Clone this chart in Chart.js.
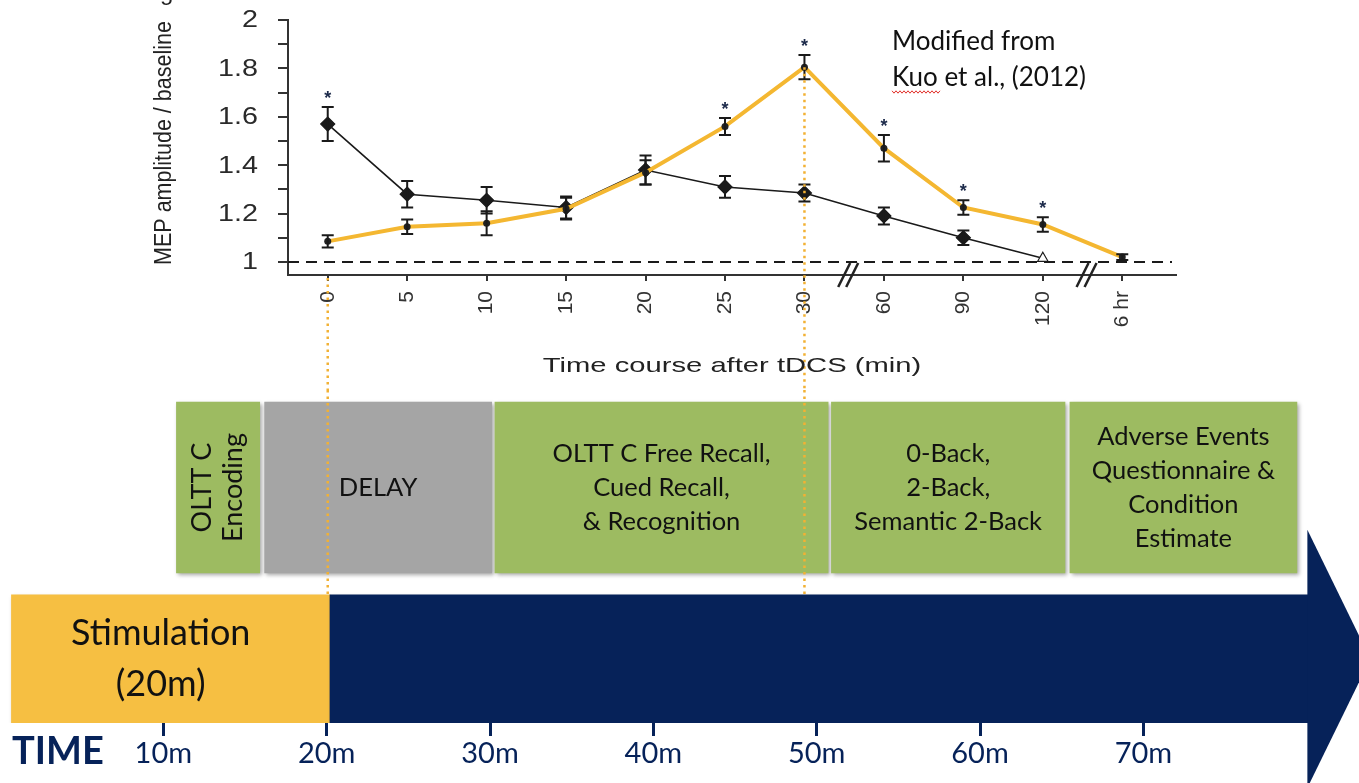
<!DOCTYPE html>
<html>
<head>
<meta charset="utf-8">
<script src="https://cdn.jsdelivr.net/npm/chart.js@4.4.1/dist/chart.umd.min.js"></script>
<style>
  html, body { margin: 0; padding: 0; background: #fff; }
  #wrap { position: relative; width: 1359px; height: 783px; overflow: hidden; }
  #mepChart { position: absolute; left: 0; top: 0; }
  #timeChart { position: absolute; left: 0; top: 390px; }
</style>
</head>
<body>
<div id="wrap">
  <canvas id="mepChart" width="1359" height="390"></canvas>
  <canvas id="timeChart" width="1359" height="393"></canvas>
</div>
<script>
// MEP time course
const timeLabels = ['0', '5', '10', '15', '20', '25', '30', '60', '90', '120', '6 hr'];
const anodalMean = [1.57, 1.28, 1.255, 1.225, 1.38, 1.31, 1.285, 1.19, 1.10, 1.015, null];
const anodalErr = [0.07, 0.055, 0.055, 0.045, 0.06, 0.045, 0.035, 0.035, 0.03, 0, null];
const highlightMean = [1.085, 1.145, 1.16, 1.22, 1.37, 1.56, 1.805, 1.47, 1.225, 1.155, 1.02];
const highlightErr = [0.025, 0.03, 0.05, 0.045, 0.05, 0.035, 0.05, 0.055, 0.03, 0.03, 0.012];
const anodalStars = [0];
const highlightStars = [5, 6, 7, 8, 9];
const breakAfter = [6, 9];
const guideIdx = [0, 6];
const yTicks = [1, 1.1, 1.2, 1.3, 1.4, 1.5, 1.6, 1.7, 1.8, 1.9, 2];
const yLabels = ['1', '1.2', '1.4', '1.6', '1.8', '2'];

// session timeline (minutes)
const taskNames = [['OLTT C', 'Encoding'], ['DELAY'], ['OLTT C Free Recall,', 'Cued Recall,', '& Recognition'],
  ['0-Back,', '2-Back,', 'Semantic 2-Back'], ['Adverse Events', 'Questionnaire &', 'Condition', 'Estimate']];
const taskStart = [10.8, 16.2, 30.3, 50.9, 65.5];
const taskEnd = [15.9, 30.1, 50.7, 65.2, 79.4];
const phaseNames = [['Stimulation', '(20m)'], []];
const phaseStart = [0.7, 20.2];
const phaseEnd = [20.2, 80.1];
const minuteTicks = [10, 20, 30, 40, 50, 60, 70];

const NAVY = '#062259';
const GOLD = '#f2b134';
let guideX = [];

function drawErrors(ctx, x, y, means, errs) {
    ctx.strokeStyle = '#1a1a1a';
    ctx.lineWidth = 2;
    means.forEach(function(m, i) {
        if (m === null || !errs[i]) return;
        var px = x.getPixelForValue(i);
        var top = y.getPixelForValue(m + errs[i]);
        var bot = y.getPixelForValue(m - errs[i]);
        ctx.beginPath();
        ctx.moveTo(px, top); ctx.lineTo(px, bot);
        ctx.moveTo(px - 6, top); ctx.lineTo(px + 6, top);
        ctx.moveTo(px - 6, bot); ctx.lineTo(px + 6, bot);
        ctx.stroke();
    });
}

function drawStars(ctx, x, y, means, errs, idx) {
    ctx.fillStyle = '#1c2a4a';
    ctx.font = 'bold 18px "Liberation Sans"';
    ctx.textAlign = 'center';
    ctx.textBaseline = 'alphabetic';
    idx.forEach(function(i) {
        var top = y.getPixelForValue(means[i] + errs[i]);
        ctx.fillText('*', x.getPixelForValue(i), top - 3);
    });
}

// the source figure is stretched sideways, so its texts are too
function stretchText(ctx, text, x, y, sx, sy) {
    ctx.save();
    ctx.translate(x, y);
    ctx.scale(sx, sy || 1);
    ctx.fillText(text, 0, 0);
    ctx.restore();
}

const mepExtras = {
    id: 'mepExtras',
    beforeDatasetsDraw(chart) {
        const {ctx, chartArea, scales: {y}} = chart;
        ctx.save();
        // baseline
        ctx.setLineDash([11, 7]);
        ctx.strokeStyle = '#1a1a1a';
        ctx.lineWidth = 2;
        ctx.beginPath();
        ctx.moveTo(chartArea.left, y.getPixelForValue(1));
        ctx.lineTo(1172, y.getPixelForValue(1));
        ctx.stroke();
        ctx.setLineDash([]);
        // x axis line
        ctx.strokeStyle = '#333';
        ctx.beginPath();
        ctx.moveTo(chartArea.left - 1, chartArea.bottom);
        ctx.lineTo(1177, chartArea.bottom);
        ctx.stroke();
        ctx.restore();
    },
    afterDatasetsDraw(chart) {
        const {ctx, chartArea, scales: {x, y}} = chart;
        ctx.save();
        drawErrors(ctx, x, y, anodalMean, anodalErr);
        drawErrors(ctx, x, y, highlightMean, highlightErr);
        drawStars(ctx, x, y, anodalMean, anodalErr, anodalStars);
        drawStars(ctx, x, y, highlightMean, highlightErr, highlightStars);

        // axis breaks
        ctx.strokeStyle = '#222';
        ctx.lineWidth = 2.5;
        breakAfter.forEach(function(i) {
            var cx = (x.getPixelForValue(i) + x.getPixelForValue(i + 1)) / 2 + 4;
            [-4, 4].forEach(function(k) {
                ctx.beginPath();
                ctx.moveTo(cx + k - 6, chartArea.bottom + 12);
                ctx.lineTo(cx + k + 6, chartArea.bottom - 12);
                ctx.stroke();
            });
        });

        // dotted guides down to the timeline
        guideX = guideIdx.map(i => x.getPixelForValue(i));
        ctx.strokeStyle = GOLD;
        ctx.lineWidth = 2.5;
        ctx.setLineDash([2.5, 4]);
        guideIdx.forEach(function(i, k) {
            var y0 = k === 0 ? chartArea.bottom + 3 : y.getPixelForValue(highlightMean[i]);
            ctx.beginPath();
            ctx.moveTo(guideX[k], y0);
            ctx.lineTo(guideX[k], chart.height);
            ctx.stroke();
        });
        ctx.setLineDash([]);

        // y tick labels
        ctx.fillStyle = '#2a2a2a';
        ctx.textAlign = 'right';
        ctx.textBaseline = 'middle';
        ctx.font = '23px "Liberation Sans"';
        yLabels.forEach(function(t) {
            stretchText(ctx, t, 258, y.getPixelForValue(+t) + 1, 1.25);
        });

        // titles
        ctx.fillStyle = '#222';
        ctx.textAlign = 'center';
        ctx.font = '21px "Liberation Sans"';
        stretchText(ctx, 'Time course after tDCS (min)', 732, 366, 1.39);
        ctx.save();
        ctx.translate(164, 143);
        ctx.rotate(-Math.PI / 2);
        ctx.font = '21.5px "Liberation Sans"';
        stretchText(ctx, 'MEP amplitude / baseline', 0, 0, 1, 1.15);
        ctx.restore();
        ctx.textAlign = 'left';
        ctx.textBaseline = 'alphabetic';
        ctx.font = '24px "Liberation Sans"';
        ctx.fillText('g', 160, 0);

        // source note
        ctx.fillStyle = '#111';
        ctx.font = '26px Lato';
        ctx.fillText('Modified from', 892, 50);
        ctx.fillText('Kuo et al., (2012)', 892, 86);
        ctx.strokeStyle = '#e0302a';
        ctx.lineWidth = 1;
        ctx.beginPath();
        for (var sx = 892; sx <= 940; sx += 2) {
            var sy = 92 + ((sx / 2) % 2 ? 1.2 : -1.2);
            if (sx === 892) ctx.moveTo(sx, sy); else ctx.lineTo(sx, sy);
        }
        ctx.stroke();
        ctx.restore();
    }
};

const mepChart = new Chart(document.getElementById('mepChart'), {
    type: 'line',
    data: {
        labels: timeLabels,
        datasets: [{
            label: 'highlighted',
            data: highlightMean,
            borderColor: '#f4b731',
            borderWidth: 4,
            pointRadius: 3.5,
            pointBackgroundColor: '#222',
            pointBorderWidth: 0,
            tension: 0
        }, {
            label: 'anodal',
            data: anodalMean,
            borderColor: '#1a1a1a',
            borderWidth: 1.6,
            pointStyle: timeLabels.map((l, i) => i === 9 ? 'triangle' : 'rectRot'),
            pointRadius: timeLabels.map((l, i) => i === 9 ? 6 : 7),
            pointBackgroundColor: timeLabels.map((l, i) => i === 9 ? '#fff' : '#1a1a1a'),
            pointBorderColor: '#1a1a1a',
            pointBorderWidth: 1.2,
            spanGaps: false,
            tension: 0
        }]
    },
    options: {
        responsive: false,
        animation: false,
        layout: { padding: { left: 0, right: 197, top: 20, bottom: 0 } },
        plugins: { legend: { display: false }, tooltip: { enabled: false } },
        scales: {
            x: {
                offset: true,
                afterFit: function(s) { s.height = 115; },
                border: { display: false },
                grid: { drawOnChartArea: false, offset: false, tickLength: 6, color: '#333', lineWidth: 2 },
                ticks: {
                    minRotation: 90, maxRotation: 90, padding: 10, color: '#333',
                    font: { family: 'Liberation Sans', size: 21 }
                }
            },
            y: {
                min: 0.946,
                max: 2,
                afterFit: function(s) { s.width = 288; },
                afterBuildTicks: function(s) { s.ticks = yTicks.map(v => ({ value: v })); },
                border: { color: '#333', width: 2 },
                grid: { drawOnChartArea: false, tickLength: 10, color: '#333', lineWidth: 2 },
                ticks: { display: false }
            }
        }
    },
    plugins: [mepExtras]
});

function drawLines(ctx, lines, cx, cy, lh) {
    var y0 = cy - (lines.length - 1) * lh / 2;
    lines.forEach(function(t, i) { ctx.fillText(t, cx, y0 + i * lh); });
}

const timelineExtras = {
    id: 'timelineExtras',
    beforeDatasetsDraw(chart) {
        const ctx = chart.ctx;
        ctx.save();
        ctx.shadowColor = 'rgba(0,0,0,0.35)';
        ctx.shadowBlur = 4;
        ctx.shadowOffsetX = 2;
        ctx.shadowOffsetY = 2;
    },
    afterDatasetsDraw(chart) {
        const ctx = chart.ctx;
        ctx.restore();
        ctx.save();
        const tasks = chart.getDatasetMeta(0).data;
        const phases = chart.getDatasetMeta(1).data;

        // arrow head on the timeline bar
        const bar = phases[1].getProps(['x', 'y', 'height'], true);
        ctx.fillStyle = NAVY;
        ctx.beginPath();
        ctx.moveTo(bar.x - 1, bar.y - 129);
        ctx.lineTo(bar.x + 62, bar.y);
        ctx.lineTo(bar.x - 1, bar.y + 129);
        ctx.closePath();
        ctx.fill();

        // dotted guides from the MEP chart
        ctx.strokeStyle = GOLD;
        ctx.lineWidth = 2.5;
        ctx.setLineDash([2.5, 4]);
        guideX.forEach(function(gx) {
            ctx.beginPath();
            ctx.moveTo(gx, 0);
            ctx.lineTo(gx, bar.y - bar.height / 2 + 2);
            ctx.stroke();
        });
        ctx.setLineDash([]);

        // box labels
        ctx.fillStyle = '#111';
        ctx.textAlign = 'center';
        ctx.textBaseline = 'middle';
        tasks.forEach(function(el, i) {
            const p = el.getProps(['x', 'y', 'base'], true);
            const cx = (p.x + p.base) / 2;
            const w = Math.abs(p.x - p.base);
            ctx.font = '25.5px Lato';
            const widest = Math.max.apply(null, taskNames[i].map(t => ctx.measureText(t).width));
            if (widest > w - 10) {
                ctx.save();
                ctx.translate(cx, p.y);
                ctx.rotate(-Math.PI / 2);
                ctx.font = '27px Lato';
                drawLines(ctx, taskNames[i], 0, 0, 31);
                ctx.restore();
            } else {
                drawLines(ctx, taskNames[i], cx, p.y, 34);
            }
        });
        ctx.font = '36px Lato';
        phases.forEach(function(el, i) {
            const p = el.getProps(['x', 'y', 'base'], true);
            drawLines(ctx, phaseNames[i], (p.x + p.base) / 2 - 10, p.y, 51);
        });

        ctx.fillStyle = NAVY;
        ctx.textAlign = 'left';
        ctx.font = 'bold 38px Lato';
        ctx.fillText('TIME', 12, 362);
        ctx.restore();
    }
};

const timeChart = new Chart(document.getElementById('timeChart'), {
    type: 'bar',
    data: {
        datasets: [{
            label: 'tasks',
            data: taskStart.map((s, i) => ({ x: [s, taskEnd[i]], y: 0 })),
            backgroundColor: taskNames.map(n => n[0] === 'DELAY' ? '#a5a5a5' : '#9dbb61'),
            barThickness: 171,
            borderSkipped: false,
            stack: 'row'
        }, {
            label: 'phases',
            data: phaseStart.map((s, i) => ({ x: [s, phaseEnd[i]], y: 1 })),
            backgroundColor: ['#f6bf42', NAVY],
            barThickness: 128,
            borderSkipped: false,
            stack: 'row'
        }]
    },
    options: {
        indexAxis: 'y',
        responsive: false,
        animation: false,
        layout: { padding: 0 },
        plugins: { legend: { display: false }, tooltip: { enabled: false } },
        scales: {
            x: {
                type: 'linear',
                min: 0,
                max: 83.2,
                stacked: false,
                afterFit: function(s) { s.height = 60; },
                afterBuildTicks: function(s) { s.ticks = minuteTicks.map(v => ({ value: v })); },
                border: { display: false },
                grid: { drawOnChartArea: false, tickLength: 13, tickColor: NAVY, tickWidth: 3 },
                ticks: {
                    padding: 0, color: NAVY,
                    font: { family: 'Lato', size: 29 },
                    callback: function(v) { return v + 'm'; }
                }
            },
            y: {
                type: 'linear',
                min: -0.481,
                max: 1.286,
                reverse: true,
                display: false
            }
        }
    },
    plugins: [timelineExtras]
});
</script>
</body>
</html>
